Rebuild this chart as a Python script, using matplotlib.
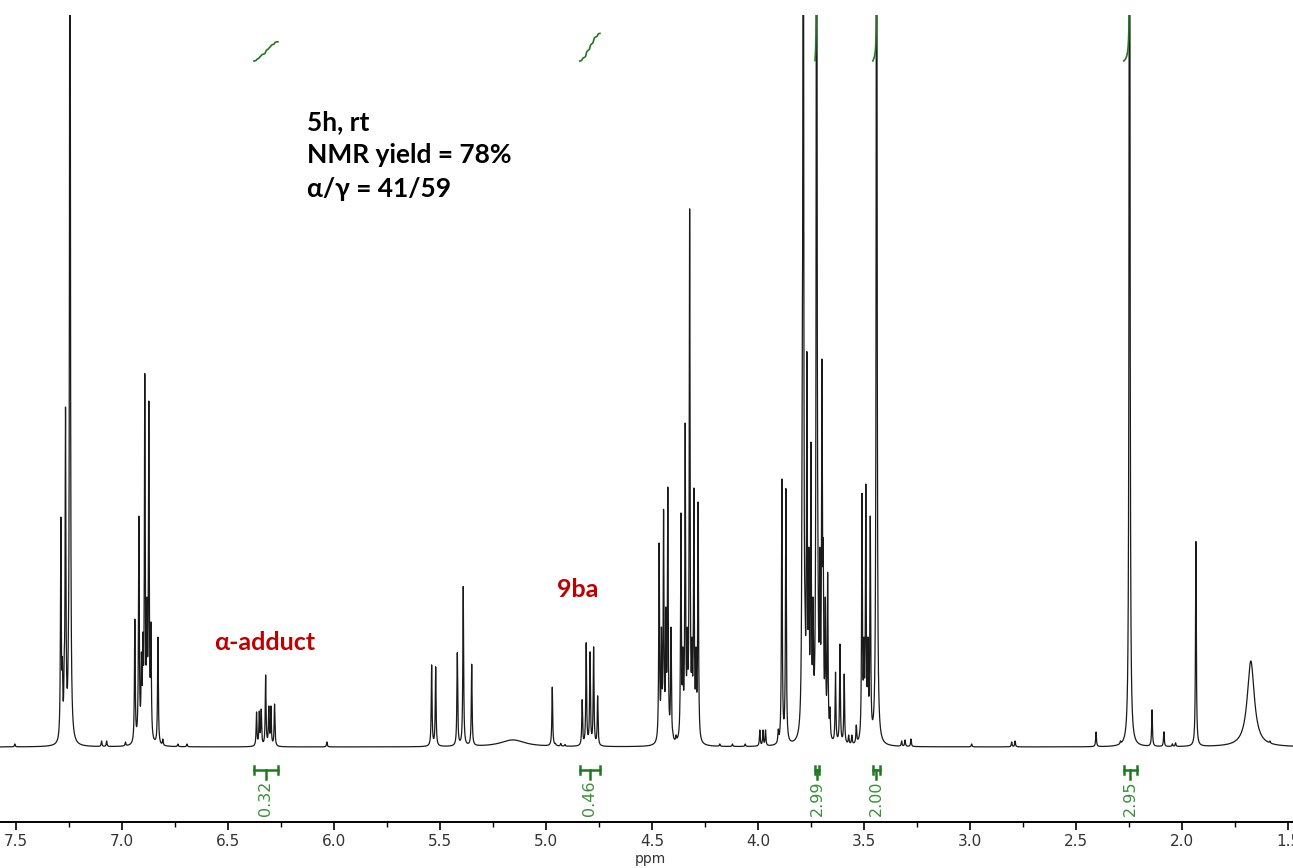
import matplotlib
matplotlib.use("Agg")
import matplotlib.pyplot as plt
import numpy as np

# peak lists: position (ppm), height above baseline (px units)
cdcl3_ppm = [7.288, 7.281, 7.272, 7.266, 7.253]
cdcl3_h = [230, 90, 95, 340, 105]
aryl_ppm = [6.939, 6.920, 6.908, 6.901, 6.892, 6.882, 6.873, 6.863, 6.830]
aryl_h = [128, 231, 95, 115, 374, 150, 346, 125, 110]
alpha_ppm = [6.365, 6.352, 6.343, 6.322, 6.307, 6.297, 6.280]
alpha_h = [35, 36, 38, 72, 41, 41, 43]
olefin_ppm = [5.539, 5.520, 5.418, 5.390, 5.350, 4.970]
olefin_h = [82, 80, 94, 160, 82, 59]
ba_ppm = [4.829, 4.810, 4.792, 4.775, 4.756]
ba_h = [47, 104, 95, 100, 51]
och2_ppm = [4.466, 4.455, 4.445, 4.434, 4.425, 4.410, 4.401, 4.386,
            4.363, 4.354, 4.343, 4.333, 4.322, 4.311, 4.302, 4.292, 4.282]
och2_h = [204, 120, 238, 140, 260, 120, 15, 12,
          234, 100, 324, 120, 539, 110, 259, 100, 245]
ome_ppm = [3.991, 3.976, 3.964, 3.904, 3.887, 3.868,
           3.791, 3.778, 3.769, 3.760, 3.750, 3.740, 3.717, 3.708,
           3.698, 3.692, 3.682, 3.671, 3.660]
ome_h = [17, 17, 17, 18, 268, 259,
         402, 150, 396, 200, 305, 150, 220, 200,
         388, 208, 150, 175, 40]
ch2_ppm = [3.634, 3.613, 3.593, 3.572, 3.557, 3.536, 3.509, 3.500, 3.491, 3.481, 3.470]
ch2_h = [75, 103, 73, 12, 12, 22, 254, 110, 263, 110, 231]
minor_ppm = [7.505, 7.096, 7.072, 6.983, 6.807, 6.736, 6.693, 6.033,
             4.955, 4.930, 4.910, 4.180, 4.120, 4.060, 3.322, 3.306, 3.278,
             2.992, 2.803, 2.787, 2.405, 2.290, 2.141, 2.085, 2.045, 2.030,
             1.934, 1.585]
minor_h = [3, 6, 6, 5, 8, 3, 3, 5,
           3, 3, 2, 3, 3, 3, 6, 7, 8,
           3, 5, 6, 15, 6, 37, 15, 3, 4,
           205, 2]
# off-scale singlets (clipped at the top of the frame)
tall_ppm = [7.245, 3.786, 3.723, 3.440, 2.247]
tall_h = [1100, 1100, 1200, 1200, 1300]
# broad signals: position, height, half width
broad_ppm = [5.156, 1.675]
broad_h = [7, 86]
broad_w = [0.07, 0.02]

# integrals
int_lo = [6.377, 4.840, 3.731, 3.458, 2.274]
int_hi = [6.264, 4.745, 3.712, 3.425, 2.212]
int_val = ["0.32", "0.46", "2.99", "2.00", "2.95"]

W = 0.0022  # half width of the sharp lines, ppm


def lorentz(x, x0, w):
    return 1.0 / (1.0 + ((x - x0) / w) ** 2)


pos = np.array(cdcl3_ppm + aryl_ppm + alpha_ppm + olefin_ppm + ba_ppm + och2_ppm
               + ome_ppm + ch2_ppm + minor_ppm + tall_ppm)
obs = np.array(cdcl3_h + aryl_h + alpha_h + olefin_h + ba_h + och2_h
               + ome_h + ch2_h + minor_h + tall_h, dtype=float)
tall = np.zeros(len(pos), bool)
tall[-len(tall_ppm):] = True
free = ~tall

# amplitudes so that the summed spectrum reaches the read heights at each line
A = lorentz(pos[:, None], pos[None, :], W)
amp = obs.copy()
rhs = obs[free] - A[np.ix_(free, tall)] @ obs[tall]
amp[free] = np.linalg.solve(A[np.ix_(free, free)], rhs)
amp = np.clip(amp, 0.5, None)

x = np.linspace(7.575, 1.476, 30000)
spec = np.zeros_like(x)
for p, a in zip(pos, amp):
    spec += a * lorentz(x, p, W)
for p, a, w in zip(broad_ppm, broad_h, broad_w):
    spec += a * lorentz(x, p, w)

fig = plt.figure(figsize=(12.93, 8.68), dpi=100)
ax = fig.add_axes([0, 46 / 868, 1, 807 / 868])
ax.plot(x, spec, color="#1a1a1a", lw=0.9)
ax.set_xlim(7.575, 1.476)
ax.set_ylim(-75, 732)

green = "#1f7a1f"
for lo, hi, val in zip(int_lo, int_hi, int_val):
    m = (x <= lo) & (x >= hi)
    cs = np.cumsum(spec[m])
    ax.plot(x[m], 686 + 60 * float(val) * cs / cs[-1], color=green, lw=1.2)
    mid = (lo + hi) / 2
    ax.plot([lo, hi], [-23, -23], color=green, lw=1.8)
    ax.plot([lo, lo], [-19, -27], color=green, lw=1.8)
    ax.plot([hi, hi], [-19, -27], color=green, lw=1.8)
    ax.plot([mid, mid], [-23, -32], color=green, lw=1.8)
    ax.text(mid, -34, val, rotation=90, ha="center", va="top",
            color="#3a8f3a", fontsize=11.5)

for s in ["left", "right", "top"]:
    ax.spines[s].set_visible(False)
ax.spines["bottom"].set_linewidth(1.4)
ax.set_yticks([])
ax.set_xticks(np.arange(1.5, 7.51, 0.5))
ax.set_xticks(np.arange(1.75, 7.5, 0.5), minor=True)
ax.xaxis.set_major_formatter(matplotlib.ticker.FormatStrFormatter("%.1f"))
ax.tick_params(axis="x", which="major", length=6, width=1.2, pad=3,
               labelsize=11, labelcolor="#333333")
ax.tick_params(axis="x", which="minor", length=3.5, width=1.0)

fig.text(650 / 1293, 1 - 859 / 868, "ppm", ha="center", va="center",
         fontsize=10, color="#333333")

fam = ["Lato", "DejaVu Sans"]
for txt, yb in [("5h, rt", 130), ("NMR yield = 78%", 163), ("α/γ = 41/59", 197)]:
    fig.text(307 / 1293, 1 - yb / 868, txt, ha="left", va="baseline",
             fontsize=19, fontweight="bold", family=fam, color="black")
fig.text(214 / 1293, 1 - 650 / 868, "α-adduct", ha="left", va="baseline",
         fontsize=18, fontweight="bold", family=fam, color="#c00000")
fig.text(557 / 1293, 1 - 597 / 868, "9ba", ha="left", va="baseline",
         fontsize=18, fontweight="bold", family=fam, color="#c00000")

fig.savefig("out.png", dpi=100)
